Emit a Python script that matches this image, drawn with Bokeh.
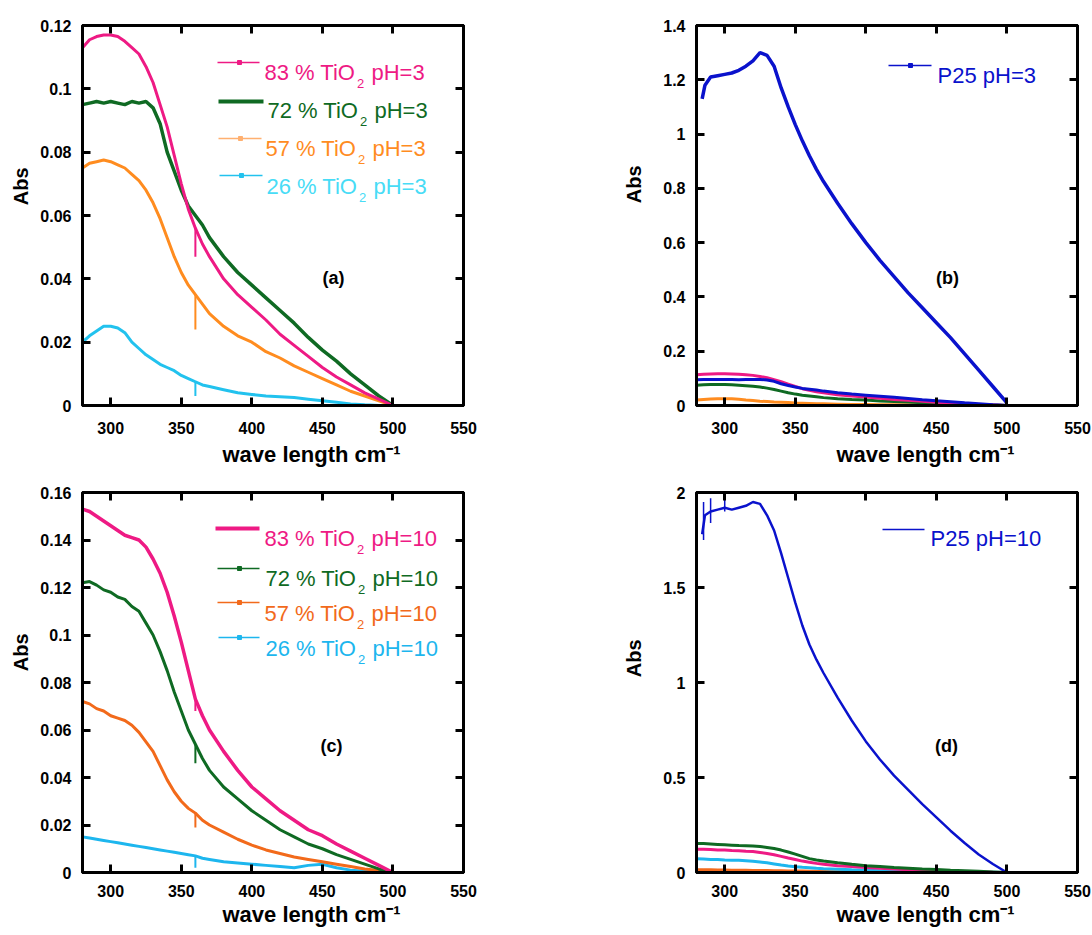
import math
from bokeh.plotting import figure
from bokeh.models import Range1d, FixedTicker, CustomJSTickFormatter, LinearAxis, Label, Title
from bokeh.layouts import column, row
from bokeh.embed import file_html
from bokeh.resources import INLINE

# ---------------- data ----------------
wavelength = [280, 285, 290, 295, 300, 305, 310, 315, 320, 325, 330, 335, 340, 345, 350, 355,
              360, 365, 370, 380, 390, 400, 410, 420, 430, 440, 450, 460, 470, 480, 490, 500]

abs_83_ph3 = [0.113, 0.1155, 0.1165, 0.117, 0.117, 0.1165, 0.115, 0.113, 0.111, 0.107, 0.102, 0.095,
              0.088, 0.079, 0.070, 0.062, 0.056, 0.051, 0.047, 0.040, 0.035, 0.031, 0.027, 0.0225,
              0.019, 0.0155, 0.012, 0.009, 0.0065, 0.004, 0.002, 0.0]
abs_72_ph3 = [0.095, 0.0955, 0.096, 0.0955, 0.096, 0.0955, 0.095, 0.096, 0.0955, 0.096, 0.094, 0.089,
              0.080, 0.074, 0.068, 0.063, 0.060, 0.057, 0.053, 0.047, 0.042, 0.038, 0.034, 0.030,
              0.026, 0.0215, 0.0175, 0.014, 0.010, 0.0065, 0.003, 0.0]
abs_57_ph3 = [0.075, 0.0765, 0.077, 0.0775, 0.077, 0.076, 0.075, 0.073, 0.071, 0.068, 0.064, 0.059,
              0.053, 0.047, 0.042, 0.038, 0.035, 0.032, 0.029, 0.025, 0.022, 0.020, 0.017, 0.015,
              0.0125, 0.0105, 0.0085, 0.0065, 0.0045, 0.003, 0.0015, 0.0]
abs_26_ph3 = [0.020, 0.022, 0.0235, 0.025, 0.025, 0.0245, 0.023, 0.020, 0.018, 0.016, 0.0145, 0.013,
              0.012, 0.011, 0.0095, 0.0085, 0.0075, 0.0065, 0.006, 0.005, 0.004, 0.0035, 0.003, 0.0028,
              0.0025, 0.002, 0.0015, 0.001, 0.0005, 0.0002, 0.0, 0.0]

abs_83_ph10 = [0.153, 0.152, 0.150, 0.148, 0.146, 0.144, 0.142, 0.141, 0.140, 0.137, 0.132, 0.126,
               0.118, 0.108, 0.097, 0.085, 0.073, 0.066, 0.060, 0.051, 0.043, 0.036, 0.031, 0.026,
               0.022, 0.018, 0.0155, 0.012, 0.009, 0.006, 0.003, 0.0]
abs_72_ph10 = [0.122, 0.1225, 0.121, 0.119, 0.118, 0.116, 0.115, 0.112, 0.110, 0.105, 0.100, 0.093,
               0.085, 0.076, 0.068, 0.060, 0.054, 0.048, 0.043, 0.036, 0.031, 0.026, 0.022, 0.018,
               0.015, 0.012, 0.010, 0.0075, 0.0055, 0.0035, 0.0015, 0.0]
abs_57_ph10 = [0.072, 0.071, 0.069, 0.068, 0.066, 0.065, 0.064, 0.062, 0.059, 0.055, 0.051, 0.045,
               0.039, 0.034, 0.030, 0.027, 0.025, 0.022, 0.020, 0.017, 0.014, 0.0115, 0.0095, 0.008,
               0.0065, 0.0055, 0.0045, 0.0035, 0.0025, 0.0015, 0.0008, 0.0]
abs_26_ph10 = [0.015, 0.0145, 0.014, 0.0135, 0.013, 0.0125, 0.012, 0.0115, 0.011, 0.0105, 0.010, 0.0095,
               0.009, 0.0085, 0.008, 0.0075, 0.007, 0.006, 0.0055, 0.0045, 0.004, 0.0035, 0.003, 0.0025,
               0.002, 0.003, 0.0035, 0.002, 0.001, 0.0005, 0.0002, 0.0]

wavelength_p25 = [284, 286, 290, 295, 300, 305, 310, 315, 320, 325, 330, 335, 340, 345, 350, 355,
                  360, 365, 370, 380, 390, 400, 410, 420, 430, 440, 450, 460, 470, 480, 490, 500]
abs_p25_ph3 = [1.13, 1.18, 1.21, 1.215, 1.22, 1.225, 1.235, 1.25, 1.27, 1.30, 1.29, 1.25, 1.17, 1.10,
               1.035, 0.975, 0.92, 0.87, 0.825, 0.745, 0.67, 0.60, 0.535, 0.475, 0.415, 0.36, 0.305,
               0.25, 0.19, 0.13, 0.07, 0.01]
abs_p25_ph10 = [1.78, 1.88, 1.90, 1.91, 1.92, 1.91, 1.92, 1.93, 1.95, 1.94, 1.88, 1.80, 1.68, 1.55,
                1.42, 1.30, 1.20, 1.12, 1.05, 0.92, 0.80, 0.69, 0.595, 0.51, 0.435, 0.36, 0.29, 0.22,
                0.155, 0.095, 0.045, 0.0]

# detector-change spikes at 360 (lower end) for each TiO2 series: 83, 72, 57, 26 %
spike_wavelength = 360
spike_ph3_low = [0.047, 0.060, 0.024, 0.003]
spike_ph10_low = [0.068, 0.046, 0.019, 0.002]
# noise spikes of P25 pH=10 near the start
p25_ph10_spike_wl = [285, 290, 300]
p25_ph10_spike_lo = [1.75, 1.84, 1.90]
p25_ph10_spike_hi = [1.95, 1.97, 2.00]

x_ticks = [300, 350, 400, 450, 500, 550]
y_ticks_a = [0, 0.02, 0.04, 0.06, 0.08, 0.1, 0.12]
y_ticks_b = [0, 0.2, 0.4, 0.6, 0.8, 1, 1.2, 1.4]
y_ticks_c = [0, 0.02, 0.04, 0.06, 0.08, 0.1, 0.12, 0.14, 0.16]
y_ticks_d = [0, 0.5, 1, 1.5, 2]

PINK = "#EE1A84"
GREEN = "#0F6A23"
ORANGE3 = "#FF8C1F"
CYAN3 = "#22C2EE"
CYAN3_TXT = "#48DCF6"
ORANGE10 = "#F26A1B"
CYAN10 = "#1DB6EE"
BLUE = "#0A12CC"

FONT = "Liberation Sans"
FW, FH = 381, 380


def px2data(ref, X, Y):
    L, T, ymax = ref
    return 280 + (X - L) / FW * 270.0, ymax * (T + FH - Y) / FH


def style_axis(ax, labels=True):
    ax.axis_line_width = 3
    ax.axis_line_color = "black"
    ax.major_tick_line_width = 3
    ax.major_tick_line_color = "black"
    ax.major_tick_in = 8
    ax.major_tick_out = 0
    ax.minor_tick_in = 0
    ax.minor_tick_out = 0
    ax.minor_tick_line_color = None
    ax.major_label_text_font = FONT
    ax.major_label_text_font_style = "bold"
    ax.major_label_text_font_size = "16px" if labels else "0px"
    ax.major_label_text_color = "black"


def make_fig(ymax, yticks, bl, br, bt, bb, abs_standoff, abs_offset, x_standoff, x_title_standoff):
    p = figure(frame_width=FW, frame_height=FH, x_range=Range1d(280, 550), y_range=Range1d(0, ymax),
               output_backend="svg", toolbar_location=None,
               min_border_left=bl, min_border_right=br, min_border_top=bt, min_border_bottom=bb,
               background_fill_color="white", border_fill_color="white")
    p.grid.visible = False
    p.outline_line_color = "black"
    p.outline_line_width = 3
    fmt = CustomJSTickFormatter(code="return String(Math.round(tick*1000)/1000);")
    blank = CustomJSTickFormatter(code="return '';")
    p.xaxis[0].ticker = FixedTicker(ticks=x_ticks)
    p.yaxis[0].ticker = FixedTicker(ticks=yticks)
    p.yaxis[0].formatter = fmt
    p.xaxis[0].major_label_standoff = x_standoff
    p.yaxis[0].major_label_standoff = 11
    style_axis(p.xaxis[0])
    style_axis(p.yaxis[0])
    top = LinearAxis(ticker=FixedTicker(ticks=x_ticks), formatter=blank)
    right = LinearAxis(ticker=FixedTicker(ticks=yticks), formatter=blank)
    style_axis(top, False)
    style_axis(right, False)
    top.major_label_standoff = 0
    right.major_label_standoff = 0
    p.add_layout(top, "above")
    p.add_layout(right, "right")
    p.add_layout(Title(text="wave length cm\u207b\u00b9", text_font=FONT, text_font_style="bold",
                       text_font_size="22px", align="left", offset=140, standoff=x_title_standoff,
                       text_color="black"), "below")
    p.add_layout(Title(text="Abs", text_font=FONT, text_font_style="bold", text_font_size="20px",
                       align="right", offset=abs_offset, standoff=abs_standoff,
                       text_color="black"), "left")
    return p


def add_letter(p, ref, letter, lx, ly):
    x, y = px2data(ref, lx, ly)
    p.add_layout(Label(x=x, y=y, text=letter, text_font=FONT, text_font_style="bold",
                       text_font_size="18px", text_align="center", text_baseline="middle",
                       text_color="black"))


def legend_line(p, ref, x0, x1, ly, color, lw, mx=None):
    a0, b0 = px2data(ref, x0, ly)
    a1, _ = px2data(ref, x1, ly)
    p.segment(x0=[a0], y0=[b0], x1=[a1], y1=[b0], line_color=color, line_width=lw)
    if mx is not None:
        m, _ = px2data(ref, mx, ly)
        p.scatter(x=[m], y=[b0], marker="square", size=4, fill_color=color, line_color=color)


def legend_tio2(p, ref, tx, base, pct, ph, color):
    x, y = px2data(ref, tx, base)
    p.add_layout(Label(x=x, y=y, text=f"{pct} % TiO", text_font=FONT, text_font_size="22px",
                       text_align="left", text_baseline="alphabetic", text_color=color))
    x, y = px2data(ref, tx + 92.5, base + 11)
    p.add_layout(Label(x=x, y=y, text="2", text_font=FONT, text_font_size="13px",
                       text_align="left", text_baseline="alphabetic", text_color=color))
    x, y = px2data(ref, tx + 107, base)
    p.add_layout(Label(x=x, y=y, text=f"pH={ph}", text_font=FONT, text_font_size="22px",
                       text_align="left", text_baseline="alphabetic", text_color=color))


def legend_text(p, ref, tx, base, text, color):
    x, y = px2data(ref, tx, base)
    p.add_layout(Label(x=x, y=y, text=text, text_font=FONT, text_font_size="22px",
                       text_align="left", text_baseline="alphabetic", text_color=color))


# frame geometry on the page (left, top, ymax), used for placing annotations
ref_a = (82, 25, 0.12)
ref_b = (696, 25, 1.4)
ref_c = (82, 492, 0.16)
ref_d = (696, 492, 2.0)

# ---------------- panel (a) ----------------
pa = make_fig(0.12, y_ticks_a, 82, 20, 25, 68, 12, 142, 16, 6)
pa.line(wavelength, abs_26_ph3, line_color=CYAN3, line_width=3)
pa.line(wavelength, abs_57_ph3, line_color=ORANGE3, line_width=3)
pa.line(wavelength, abs_72_ph3, line_color=GREEN, line_width=3.5)
pa.line(wavelength, abs_83_ph3, line_color=PINK, line_width=3)
for s_low, series, col in zip(spike_ph3_low, [abs_83_ph3, abs_72_ph3, abs_57_ph3, abs_26_ph3],
                              [PINK, GREEN, ORANGE3, CYAN3]):
    pa.segment(x0=[spike_wavelength], x1=[spike_wavelength], y0=[series[wavelength.index(360)]],
               y1=[s_low], line_color=col, line_width=2)
legend_line(pa, ref_a, 217, 259, 62, PINK, 1.5, 239)
legend_tio2(pa, ref_a, 264, 72, 83, 3, PINK)
legend_line(pa, ref_a, 218, 263, 101, GREEN, 4)
legend_tio2(pa, ref_a, 267, 110, 72, 3, GREEN)
legend_line(pa, ref_a, 218, 261, 138, "#FFB070", 1.5, 240)
legend_tio2(pa, ref_a, 265, 148, 57, 3, ORANGE3)
legend_line(pa, ref_a, 219, 262, 175, CYAN3, 1.5, 241)
legend_tio2(pa, ref_a, 266, 186, 26, 3, CYAN3_TXT)
add_letter(pa, ref_a, "(a)", 333, 277)

# ---------------- panel (b) ----------------
pb = make_fig(1.4, y_ticks_b, 213, 15, 25, 68, 32, 140, 16, 6)
pb.line(wavelength, abs_26_ph3, line_color=ORANGE3, line_width=3)
pb.line(wavelength, abs_57_ph3, line_color=GREEN, line_width=3)
pb.line(wavelength, abs_83_ph3, line_color=PINK, line_width=3)
pb.line(wavelength, abs_72_ph3, line_color=BLUE, line_width=3)
pb.line(wavelength_p25, abs_p25_ph3, line_color=BLUE, line_width=3.5)
legend_line(pb, ref_b, 888, 931, 65, BLUE, 1.5, 910)
legend_text(pb, ref_b, 937, 75, "P25 pH=3", BLUE)
add_letter(pb, ref_b, "(b)", 947, 277)

# ---------------- panel (c) ----------------
pc = make_fig(0.16, y_ticks_c, 82, 20, 19, 62, 12, 141, 12, 0)
pc.line(wavelength, abs_26_ph10, line_color=CYAN10, line_width=3)
pc.line(wavelength, abs_57_ph10, line_color=ORANGE10, line_width=3)
pc.line(wavelength, abs_72_ph10, line_color=GREEN, line_width=3)
pc.line(wavelength, abs_83_ph10, line_color=PINK, line_width=3.5)
for s_low, series, col in zip(spike_ph10_low, [abs_83_ph10, abs_72_ph10, abs_57_ph10, abs_26_ph10],
                              [PINK, GREEN, ORANGE10, CYAN10]):
    pc.segment(x0=[spike_wavelength], x1=[spike_wavelength], y0=[series[wavelength.index(360)]],
               y1=[s_low], line_color=col, line_width=2)
legend_line(pc, ref_c, 215, 259, 528, PINK, 4)
legend_tio2(pc, ref_c, 264, 538, 83, 10, PINK)
legend_line(pc, ref_c, 217, 259, 568, GREEN, 1.5, 239)
legend_tio2(pc, ref_c, 265, 578, 72, 10, GREEN)
legend_line(pc, ref_c, 217, 259, 602, ORANGE10, 1.5, 239)
legend_tio2(pc, ref_c, 264, 613, 57, 10, ORANGE10)
legend_line(pc, ref_c, 218, 259, 637, CYAN10, 1.5, 239)
legend_tio2(pc, ref_c, 265, 648, 26, 10, CYAN10)
add_letter(pc, ref_c, "(c)", 331, 745)

# ---------------- panel (d) ----------------
pd_ = make_fig(2.0, y_ticks_d, 213, 15, 19, 62, 32, 147, 12, 0)
pd_.line(wavelength, abs_26_ph10, line_color=ORANGE10, line_width=3)
pd_.line(wavelength, abs_57_ph10, line_color=CYAN10, line_width=3)
pd_.line(wavelength, abs_72_ph10, line_color=PINK, line_width=3)
pd_.line(wavelength, abs_83_ph10, line_color=GREEN, line_width=3)
pd_.line(wavelength_p25, abs_p25_ph10, line_color=BLUE, line_width=2.5)
pd_.segment(x0=p25_ph10_spike_wl, x1=p25_ph10_spike_wl, y0=p25_ph10_spike_lo, y1=p25_ph10_spike_hi,
            line_color=BLUE, line_width=1.5)
legend_line(pd_, ref_d, 882, 924, 529, BLUE, 1.5)
legend_text(pd_, ref_d, 930, 538, "P25 pH=10", BLUE)
add_letter(pd_, ref_d, "(d)", 946, 745)

layout = column(row(pa, pb), row(pc, pd_))
open("out.html", "w").write(file_html(layout, INLINE))
